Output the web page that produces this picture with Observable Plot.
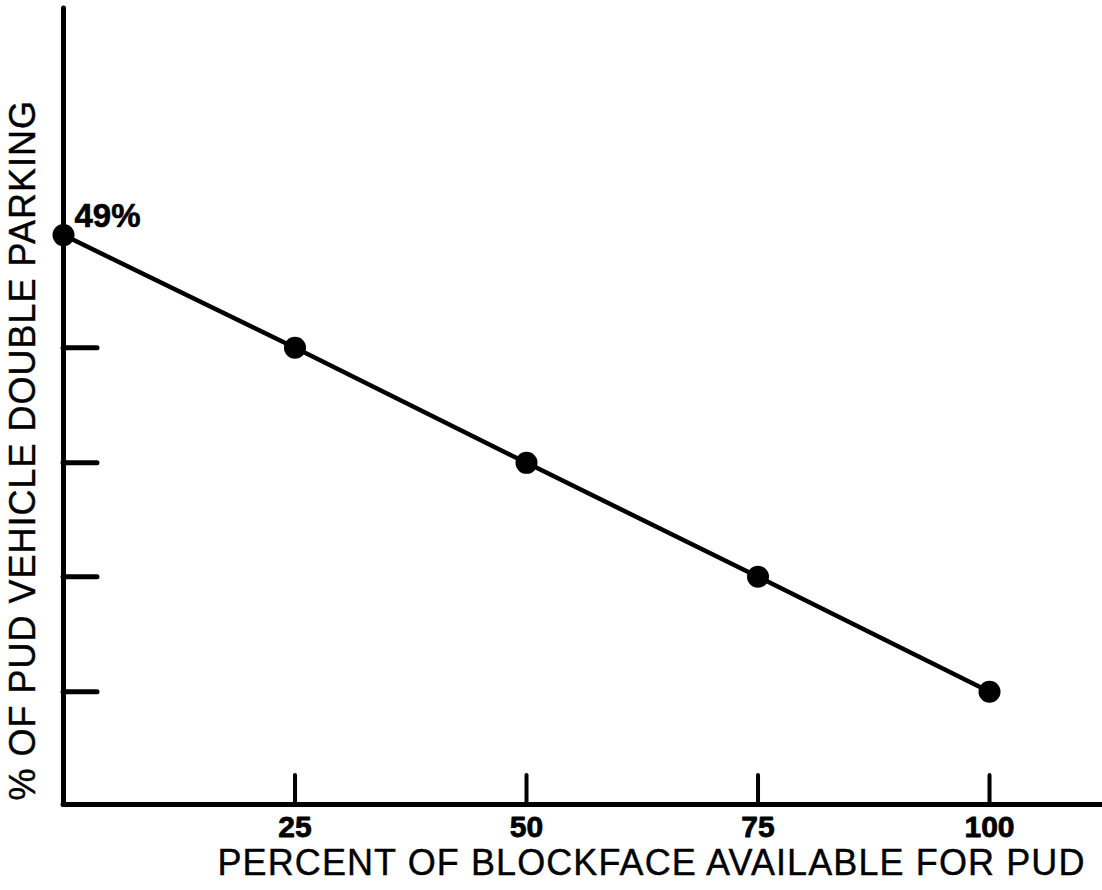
<!DOCTYPE html>
<html>
<head>
<meta charset="utf-8">
<script src="https://cdn.jsdelivr.net/npm/d3@7"></script>
<script src="https://cdn.jsdelivr.net/npm/@observablehq/plot@0.6"></script>
<style>
  html, body { margin: 0; padding: 0; background: #fff; }
  #chart svg { display: block; }
</style>
</head>
<body>
<div id="chart"></div>
<script>
// Data
const blockfacePct = [0, 25, 50, 75, 100];
const doubleParkingPct = [49, 39.3, 29.4, 19.6, 9.7];
const xTickValues = [25, 50, 75, 100];
const xTickLabels = ["25", "50", "75", "100"];
const yTickValues = [9.7, 19.6, 29.4, 39.3];
const annotationText = ["49%"];
const xTitle = ["PERCENT OF BLOCKFACE AVAILABLE FOR PUD"];
const yTitle = ["% OF PUD VEHICLE DOUBLE PARKING"];

const points = blockfacePct.map((x, i) => ({x, y: doubleParkingPct[i]}));
const annotation = [{x: blockfacePct[0], y: doubleParkingPct[0], label: annotationText[0]}];

const W = 1102, H = 890;
const mL = 63, mT = 8, mB = 86, mR = 0;
const innerH = H - mT - mB, innerW = W - mL - mR;

const chart = Plot.plot({
  width: W,
  height: H,
  marginLeft: mL,
  marginTop: mT,
  marginBottom: mB,
  marginRight: mR,
  style: {fontFamily: "'Liberation Sans', Arial, Helvetica, sans-serif", color: "#000", background: "#fff"},
  x: {domain: [0, 112.2], axis: null},
  y: {domain: [0, 68.5], axis: null},
  marks: [
    // axis lines
    Plot.ruleX([0], {stroke: "#000", strokeWidth: 5, strokeLinecap: "round"}),
    Plot.ruleY([0], {stroke: "#000", strokeWidth: 5, strokeLinecap: "round"}),
    // x ticks (inward, upward)
    Plot.tickX(xTickValues, {x: d => d, stroke: "#000", strokeWidth: 4, insetTop: innerH - 29, strokeLinecap: "round"}),
    // y ticks (inward, rightward)
    Plot.tickY(yTickValues, {y: d => d, stroke: "#000", strokeWidth: 5, insetRight: innerW - 34, strokeLinecap: "round"}),
    // x tick labels
    Plot.text(xTickValues, {
      x: d => d, frameAnchor: "bottom", text: (d, i) => xTickLabels[i],
      lineAnchor: "top", dy: 11, fontSize: 30, fontWeight: "bold", fill: "#000",
      stroke: "#000", strokeWidth: 0.8
    }),
    // line and dots
    Plot.line(points, {x: "x", y: "y", stroke: "#000", strokeWidth: 4.5}),
    Plot.dot(points, {x: "x", y: "y", r: 11, fill: "#000", stroke: "none"}),
    // annotation
    Plot.text(annotation, {
      x: "x", y: "y", text: "label", textAnchor: "start", lineAnchor: "bottom",
      dx: 11, dy: -8, fontSize: 33, fontWeight: "bold", fill: "#000",
      stroke: "#000", strokeWidth: 0.6
    }),
    // x title
    Plot.text(xTitle, {
      frameAnchor: "bottom-right", text: d => d, textAnchor: "end", lineAnchor: "top",
      dx: -17, dy: 45, fontSize: 36, fill: "#000", stroke: "#000", strokeWidth: 0.4,
      style: {letterSpacing: "1.1px"}
    }),
    // y title
    Plot.text(yTitle, {
      frameAnchor: "bottom-left", text: d => d, textAnchor: "start", lineAnchor: "middle",
      rotate: -90, dx: -40, dy: -4, fontSize: 36, fill: "#000", stroke: "#000", strokeWidth: 0.4
    })
  ]
});
// letter spacing for the titles
d3.select(chart).selectAll("text").each(function() {
  const t = this.textContent;
  if (t === xTitle[0]) this.setAttribute("letter-spacing", "1.1");
  if (t === yTitle[0]) this.setAttribute("letter-spacing", "1");
});
document.getElementById("chart").appendChild(chart);
</script>
</body>
</html>
